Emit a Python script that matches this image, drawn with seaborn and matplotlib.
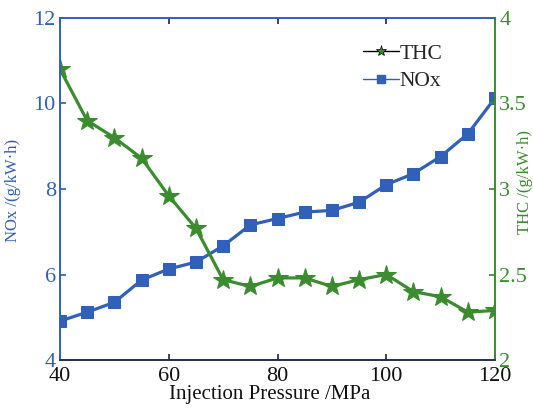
import matplotlib
matplotlib.use("Agg")
import matplotlib.pyplot as plt
import seaborn as sns
import pandas as pd
from matplotlib.lines import Line2D

pressure = [40, 45, 50, 55, 60, 65, 70, 75, 80, 85, 90, 95, 100, 105, 110, 115, 120]
nox = [4.91, 5.12, 5.35, 5.87, 6.13, 6.29, 6.67, 7.16, 7.31, 7.46, 7.50, 7.69, 8.10, 8.36, 8.76, 9.29, 10.13]
thc = [3.70, 3.40, 3.30, 3.18, 2.96, 2.77, 2.47, 2.43, 2.48, 2.48, 2.43, 2.47, 2.50, 2.40, 2.37, 2.28, 2.29]
x_ticks = [40, 60, 80, 100, 120]
nox_ticks = [4, 6, 8, 10, 12]
thc_ticks = [2, 2.5, 3, 3.5, 4]
thc_tick_labels = ["2", "2.5", "3", "3.5", "4"]

blue = "#3060b8"
green = "#3a8c2f"
navy = "#1f2f4f"

sns.set_theme(style="ticks")
plt.rcParams["font.family"] = ["Liberation Serif", "DejaVu Serif"]

df = pd.DataFrame({"pressure": pressure, "NOx": nox, "THC": thc})

fig = plt.figure(figsize=(5.33, 4.08), dpi=100)
ax = fig.add_axes([0.1126, 0.1176, 0.8161, 0.8383])
ax2 = ax.twinx()

sns.lineplot(data=df, x="pressure", y="NOx", ax=ax, color=blue, marker="s",
             markersize=8, markeredgecolor=blue, linewidth=2.3, legend=False)
sns.lineplot(data=df, x="pressure", y="THC", ax=ax2, color=green, marker="*",
             markersize=15, markeredgecolor=green, linewidth=2.3, legend=False)

ax.set_xlim(40, 120)
ax.set_ylim(4, 12)
ax2.set_ylim(2, 4)
ax.set_xticks(x_ticks)
ax.set_yticks(nox_ticks)
ax2.set_yticks(thc_ticks)
ax2.set_yticklabels(thc_tick_labels)

ax.tick_params(axis="x", direction="in", top=True, labelsize=16, colors=navy, length=4, pad=5)
ax.tick_params(axis="x", labelcolor="#111111")
ax.tick_params(axis="y", direction="in", labelsize=16, colors=blue, length=4, pad=3)
ax2.tick_params(axis="y", direction="in", labelsize=16, colors=green, length=4, pad=3)

ax.set_xlabel("Injection Pressure /MPa", fontsize=15, color="#111111")
ax.xaxis.set_label_coords(0.483, -0.073, transform=ax.transAxes)
ax.xaxis.label.set_verticalalignment("top")
ax.set_ylabel("NOx /(g/kW·h)", fontsize=12, color=blue)
ax.yaxis.set_label_coords(-0.09, 0.495)
ax2.set_ylabel("THC /(g/kW·h)", fontsize=12, color=green, rotation=90)
ax2.yaxis.set_label_coords(1.05, 0.52)

for a in (ax, ax2):
    a.spines["left"].set_color(blue)
    a.spines["top"].set_color(blue)
    a.spines["right"].set_color(green)
    a.spines["bottom"].set_color(navy)
    for s in a.spines.values():
        s.set_linewidth(1.2)

handles = [
    Line2D([], [], color="black", linewidth=1, marker="*", markersize=8,
           markerfacecolor=green, markeredgecolor="black", markeredgewidth=0.5),
    Line2D([], [], color=blue, linewidth=1, marker="s", markersize=6,
           markerfacecolor=blue, markeredgecolor=blue),
]
ax2.legend(handles, ["THC", "NOx"], loc="upper left", bbox_to_anchor=(0.697, 0.925),
           frameon=False, fontsize=15.5, handlelength=1.65, handletextpad=0.05,
           labelspacing=0.35, borderpad=0, borderaxespad=0)

fig.savefig("out.png", dpi=100)
